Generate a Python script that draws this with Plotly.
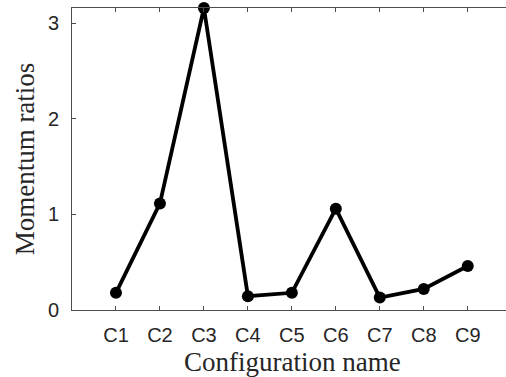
import plotly.graph_objects as go

categories = ["C1", "C2", "C3", "C4", "C5", "C6", "C7", "C8", "C9"]
momentum_ratios = [0.18, 1.115, 3.16, 0.145, 0.18, 1.06, 0.13, 0.22, 0.46]
y_ticks = [0, 1, 2, 3]

x_pos = list(range(1, len(categories) + 1))

fig = go.Figure()
fig.add_trace(go.Scatter(
    x=x_pos, y=momentum_ratios, mode="lines+markers",
    line=dict(color="black", width=3.8),
    marker=dict(color="black", size=12),
    cliponaxis=False, showlegend=False,
))

axis_col = "#4d4d4d"
fig.update_layout(
    width=506, height=377,
    margin=dict(l=72, r=0, t=8, b=67),
    plot_bgcolor="white", paper_bgcolor="white",
    xaxis=dict(
        range=[0, 9.87], tickvals=x_pos, ticktext=categories,
        showline=True, linecolor=axis_col, linewidth=1, mirror="ticks",
        ticks="inside", ticklen=4, tickcolor=axis_col, showgrid=False, zeroline=False,
        ticklabelstandoff=7,
        tickfont=dict(family="Liberation Sans, Arial", size=20, color="#262626"),
    ),
    yaxis=dict(
        range=[0, 3.16], tickvals=y_ticks, ticktext=[str(v) for v in y_ticks],
        showline=True, linecolor=axis_col, linewidth=1,
        ticks="inside", ticklen=4, tickcolor=axis_col, showgrid=False, zeroline=False,
        ticklabelstandoff=8,
        tickfont=dict(family="Liberation Sans, Arial", size=20, color="#262626"),
        title=dict(text="Momentum ratios", standoff=5,
                   font=dict(family="Liberation Serif, serif", size=27, color="#262626")),
    ),
    annotations=[dict(
        text="Configuration name", xref="paper", yref="paper",
        x=0.5 * (440 / 434), y=0, xanchor="center", yanchor="middle",
        yshift=-52, showarrow=False,
        font=dict(family="Liberation Serif, serif", size=27, color="#262626"),
    )],
)

fig.write_html("out.html")
